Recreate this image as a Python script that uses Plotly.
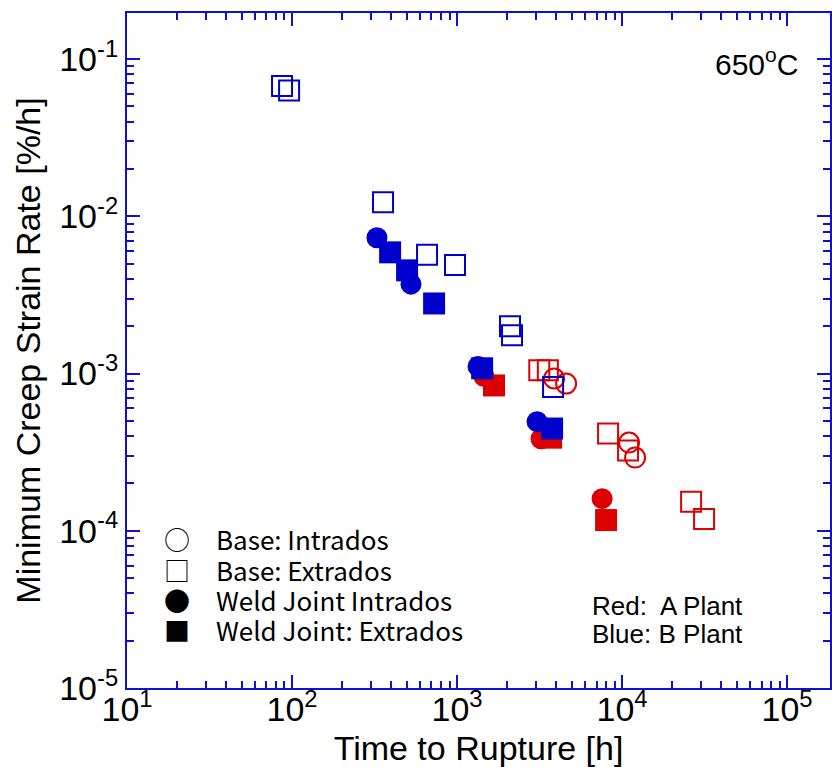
import plotly.graph_objects as go

# ---- data ----
# Plant A (red)
a_base_intra_t = [3873, 4581, 11020, 11990]
a_base_intra_r = [0.00093, 0.000863, 0.000364, 0.000292]
a_base_extra_t = [3150, 3550, 8225, 10870, 26200, 31400]
a_base_extra_r = [0.00105, 0.00105, 0.000415, 0.000324, 0.000153, 0.000119]
a_weld_intra_t = [1459, 3228, 7568]
a_weld_intra_r = [0.000957, 0.000385, 0.00016]
a_weld_extra_t = [1675, 3715, 8000]
a_weld_extra_r = [0.00084, 0.000391, 0.000117]

# Plant B (blue)
b_base_extra_t = [87, 96, 356, 658, 972, 2094, 2154, 3819]
b_base_extra_r = [0.0673, 0.063, 0.0123, 0.0057, 0.0049, 0.0020, 0.00175, 0.00082]
b_weld_intra_t = [327, 526, 1340, 3055]
b_weld_intra_r = [0.0073, 0.0037, 0.00111, 0.000494]
b_weld_extra_t = [393, 498, 726, 1419, 3767]
b_weld_extra_r = [0.0059, 0.00453, 0.00279, 0.00108, 0.000447]

x_tickvals = [10, 100, 1000, 10000, 100000]
x_ticktext = ["10<sup>1</sup>", "10<sup>2</sup>", "10<sup>3</sup>", "10<sup>4</sup>", "10<sup>5</sup>"]
y_tickvals = [1e-5, 1e-4, 1e-3, 1e-2, 1e-1]
y_ticktext = ["10<sup>-5</sup>", "10<sup>-4</sup>", "10<sup>-3</sup>", "10<sup>-2</sup>", "10<sup>-1</sup>"]

legend_labels = ["○\u2003Base: Intrados", "□\u2003Base: Extrados",
                 "●\u2003Weld Joint Intrados", "■\u2003Weld Joint: Extrados"]
plant_labels = ["Red:\u00a0 A Plant", "Blue: B Plant"]

RED = "#dd0000"
BLUE = "#0000cc"
AXC = "#1010d0"

x_minor = [m * 10 ** d for d in range(1, 6) for m in range(2, 10)]
y_minor = [m * 10.0 ** d for d in range(-5, 0) for m in range(2, 10)]

fig = go.Figure()

def add(t, r, symbol, color, size):
    open_ = symbol.endswith("open")
    fig.add_trace(go.Scatter(
        x=t, y=r, mode="markers", showlegend=False,
        marker=dict(symbol=symbol, size=size, color=color,
                    line=dict(color=color, width=2 if open_ else 0)),
    ))

add(a_base_intra_t, a_base_intra_r, "circle-open", RED, 20)
add(a_base_extra_t, a_base_extra_r, "square-open", RED, 20)
add(a_weld_intra_t, a_weld_intra_r, "circle", RED, 21)
add(a_weld_extra_t, a_weld_extra_r, "square", RED, 22)
add(b_base_extra_t, b_base_extra_r, "square-open", BLUE, 20)
add(b_weld_intra_t, b_weld_intra_r, "circle", BLUE, 21)
add(b_weld_extra_t, b_weld_extra_r, "square", BLUE, 22)

FONT = "Liberation Sans, Arial, sans-serif"

axis_common = dict(
    type="log", showgrid=False, zeroline=False,
    showline=True, linecolor=AXC, linewidth=2, mirror="allticks",
    ticks="inside", ticklen=13, tickwidth=2, tickcolor=AXC,
    tickfont=dict(family=FONT, size=34, color="black"),
)

fig.update_xaxes(
    **axis_common,
    range=[1, 5.26],
    tickvals=x_tickvals, ticktext=x_ticktext,
    ticklabelstandoff=-10,
    minor=dict(ticks="inside", ticklen=7, tickwidth=1.5, tickcolor=AXC, tickvals=x_minor, showgrid=False),
    title=dict(text="Time to Rupture [h]", font=dict(family=FONT, size=34, color="black"), standoff=12),
)
fig.update_yaxes(
    **axis_common,
    range=[-5, -0.707],
    tickvals=y_tickvals, ticktext=y_ticktext,
    minor=dict(ticks="inside", ticklen=7, tickwidth=1.5, tickcolor=AXC, tickvals=y_minor, showgrid=False),
    title=dict(text="Minimum Creep Strain Rate [%/h]", font=dict(family=FONT, size=34, color="black"), standoff=8),
)

fig.add_annotation(
    xref="paper", yref="paper", x=0.895, y=0.928, xanchor="center", yanchor="middle",
    text="650<sup>o</sup>C", showarrow=False,
    font=dict(family=FONT, size=30, color="black"),
)

plant_y = [0.1215, 0.08]
for txt, yy in zip(plant_labels, plant_y):
    fig.add_annotation(
        xref="paper", yref="paper", x=0.658, y=yy, xanchor="left", yanchor="middle",
        text=txt, showarrow=False, align="left",
        font=dict(family=FONT, size=26, color="black"),
    )

legend_y = [0.2208, 0.1749, 0.1304, 0.086]
for txt, yy in zip(legend_labels, legend_y):
    fig.add_annotation(
        xref="paper", yref="paper", x=0.050, y=yy, xanchor="left", yanchor="middle",
        text=txt, showarrow=False, align="left",
        font=dict(family="Noto Sans CJK JP, sans-serif", size=26, color="black"),
    )

fig.update_layout(
    width=832, height=767,
    margin=dict(l=127, r=0, t=13, b=79),
    paper_bgcolor="white", plot_bgcolor="white",
    showlegend=False,
)

fig.write_html("out.html")
